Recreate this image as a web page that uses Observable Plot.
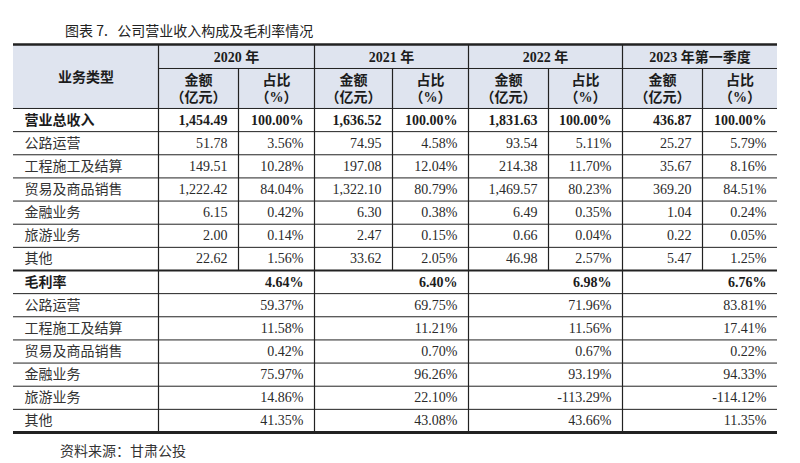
<!DOCTYPE html>
<html>
<head>
<meta charset="utf-8">
<script src="https://cdn.jsdelivr.net/npm/d3@7"></script>
<script src="https://cdn.jsdelivr.net/npm/@observablehq/plot@0.6"></script>
<style>
  html, body { margin: 0; padding: 0; background: #fff; }
  body { width: 800px; height: 463px; overflow: hidden; }
  #title { height: 43px; box-sizing: border-box; padding: 21px 0 0 65px; font: 14px "Noto Sans CJK SC", sans-serif; color: #222; white-space: pre; line-height: 18px; }
  #source { height: 28px; box-sizing: border-box; padding: 6px 0 0 60px; font: 14px "Noto Sans CJK SC", sans-serif; color: #333; line-height: 18px; }
  svg { display: block; }
</style>
</head>
<body>
<div id="title">图表 7.   公司营业收入构成及毛利率情况</div>
<div id="chart"></div>
<div id="source">资料来源：甘肃公投</div>
<script>
// ---------- data ----------
const titleText = "图表 7.   公司营业收入构成及毛利率情况";
const sourceText = "资料来源：甘肃公投";
const firstHeader = "业务类型";
const years = ["2020 年", "2021 年", "2022 年", "2023 年第一季度"];
const amountHeader = "金额\n（亿元）";
const shareHeader = "占比\n（%）";
const totalLabel = "营业总收入";
const marginLabel = "毛利率";
const categories = ["公路运营", "工程施工及结算", "贸易及商品销售", "金融业务", "旅游业务", "其他"];

const totalRevenue = [1454.49, 1636.52, 1831.63, 436.87];
const totalShare = [100.00, 100.00, 100.00, 100.00];

const revenue2020 = [51.78, 149.51, 1222.42, 6.15, 2.00, 22.62];
const share2020   = [3.56, 10.28, 84.04, 0.42, 0.14, 1.56];
const revenue2021 = [74.95, 197.08, 1322.10, 6.30, 2.47, 33.62];
const share2021   = [4.58, 12.04, 80.79, 0.38, 0.15, 2.05];
const revenue2022 = [93.54, 214.38, 1469.57, 6.49, 0.66, 46.98];
const share2022   = [5.11, 11.70, 80.23, 0.35, 0.04, 2.57];
const revenue2023Q1 = [25.27, 35.67, 369.20, 1.04, 0.22, 5.47];
const share2023Q1   = [5.79, 8.16, 84.51, 0.24, 0.05, 1.25];

const grossMargin = [4.64, 6.40, 6.98, 6.76];
const margin2020   = [59.37, 11.58, 0.42, 75.97, 14.86, 41.35];
const margin2021   = [69.75, 11.21, 0.70, 96.26, 22.10, 43.08];
const margin2022   = [71.96, 11.56, 0.67, 93.19, -113.29, 43.66];
const margin2023Q1 = [83.81, 17.41, 0.22, 94.33, -114.12, 11.35];

// ---------- layout ----------
const revenues = [revenue2020, revenue2021, revenue2022, revenue2023Q1];
const shares = [share2020, share2021, share2022, share2023Q1];
const margins = [margin2020, margin2021, margin2022, margin2023Q1];

const colWidths = [145, 80, 76, 78, 76, 80, 74, 80, 75];
const edges = [0, ...d3.cumsum(colWidths)];
const totalW = edges[edges.length - 1];
const yearRowH = 24, subRowH = 40, rowH = 23.15;
const headerH = yearRowH + subRowH;
const nTop = 1 + categories.length, nBottom = 1 + categories.length;
const sectionY = headerH + nTop * rowH;
const totalH = sectionY + nBottom * rowH;
const rowMid = r => headerH + r * rowH + rowH / 2;
const pad = 11;

const fmtAmt = d3.format(",.2f");
const fmtPct = v => v.toFixed(2) + "%";

// cells
const cells = [];
cells.push({x: edges[1] / 2, y: headerH / 2, t: firstHeader, kind: "head"});
years.forEach((yr, g) => {
  cells.push({x: (edges[1 + 2 * g] + edges[3 + 2 * g]) / 2, y: yearRowH / 2, t: yr, kind: "head"});
  cells.push({x: (edges[1 + 2 * g] + edges[2 + 2 * g]) / 2, y: yearRowH + subRowH / 2, t: amountHeader, kind: "head"});
  cells.push({x: (edges[2 + 2 * g] + edges[3 + 2 * g]) / 2, y: yearRowH + subRowH / 2, t: shareHeader, kind: "head"});
});
// top section
cells.push({x: 0, y: rowMid(0), t: totalLabel, kind: "labelBold"});
years.forEach((_, g) => {
  cells.push({x: edges[2 + 2 * g], y: rowMid(0), t: fmtAmt(totalRevenue[g]), kind: "numBold"});
  cells.push({x: edges[3 + 2 * g], y: rowMid(0), t: fmtPct(totalShare[g]), kind: "numBold"});
});
categories.forEach((c, i) => {
  cells.push({x: 0, y: rowMid(i + 1), t: c, kind: "label"});
  years.forEach((_, g) => {
    cells.push({x: edges[2 + 2 * g], y: rowMid(i + 1), t: fmtAmt(revenues[g][i]), kind: "num"});
    cells.push({x: edges[3 + 2 * g], y: rowMid(i + 1), t: fmtPct(shares[g][i]), kind: "num"});
  });
});
// bottom section
cells.push({x: 0, y: rowMid(nTop), t: marginLabel, kind: "labelBold"});
years.forEach((_, g) => {
  cells.push({x: edges[3 + 2 * g], y: rowMid(nTop), t: fmtPct(grossMargin[g]), kind: "numBold"});
});
categories.forEach((c, i) => {
  cells.push({x: 0, y: rowMid(nTop + 1 + i), t: c, kind: "label"});
  years.forEach((_, g) => {
    cells.push({x: edges[3 + 2 * g], y: rowMid(nTop + 1 + i), t: fmtPct(margins[g][i]), kind: "num"});
  });
});

// horizontal rules
const hRules = [];
hRules.push({y: 0, x1: 0, x2: totalW, w: 2.5});
hRules.push({y: yearRowH, x1: edges[1], x2: totalW, w: 1});
hRules.push({y: headerH, x1: 0, x2: totalW, w: 1});
for (let r = 1; r < nTop; r++) hRules.push({y: headerH + r * rowH, x1: 0, x2: totalW, w: 1});
hRules.push({y: sectionY, x1: 0, x2: totalW, w: 2.2});
for (let r = 1; r < nBottom; r++) hRules.push({y: sectionY + r * rowH, x1: 0, x2: totalW, w: 1});
hRules.push({y: totalH, x1: 0, x2: totalW, w: 2.8});

// vertical rules
const vRules = [];
[1, 3, 5, 7].forEach(k => vRules.push({x: edges[k], y1: 0, y2: totalH}));
[2, 4, 6, 8].forEach(k => vRules.push({x: edges[k], y1: yearRowH, y2: sectionY}));

const serif = "'Liberation Serif', 'Times New Roman', 'Noto Sans CJK SC', serif";
const cjk = "'Noto Sans CJK SC', sans-serif";
const ink = "#1c1c1c";

const chart = Plot.plot({
  width: 800,
  height: 392,
  marginLeft: 13,
  marginRight: 23,
  marginTop: 1,
  marginBottom: 3,
  x: {domain: [0, totalW], axis: null},
  y: {domain: [0, totalH], reverse: true, axis: null},
  style: {background: "white"},
  marks: [
    Plot.rect([{x1: 0, x2: totalW, y1: 0, y2: headerH}], {x1: "x1", x2: "x2", y1: "y1", y2: "y2", fill: "#dfe4ef"}),
    Plot.ruleX(vRules, {x: "x", y1: "y1", y2: "y2", stroke: "#222", strokeWidth: 1.2}),
    Plot.ruleY(hRules, {y: "y", x1: "x1", x2: "x2", stroke: "#222", strokeWidth: d => d.w}),
    Plot.text(cells.filter(d => d.kind === "head"), {x: "x", y: "y", text: "t", textAnchor: "middle", lineAnchor: "middle", lineHeight: 1.2, fontSize: 14, fontWeight: "bold", fontFamily: serif, fill: ink}),
    Plot.text(cells.filter(d => d.kind === "labelBold"), {x: "x", y: "y", text: "t", textAnchor: "start", dx: pad, lineAnchor: "middle", fontSize: 14, fontWeight: "bold", fontFamily: cjk, fill: ink}),
    Plot.text(cells.filter(d => d.kind === "label"), {x: "x", y: "y", text: "t", textAnchor: "start", dx: pad, lineAnchor: "middle", fontSize: 14, fontFamily: cjk, fill: "#333", style: {letterSpacing: "0.5px"}}),
    Plot.text(cells.filter(d => d.kind === "numBold"), {x: "x", y: "y", text: "t", textAnchor: "end", dx: -pad, lineAnchor: "middle", fontSize: 14, fontWeight: "bold", fontFamily: serif, fill: ink}),
    Plot.text(cells.filter(d => d.kind === "num"), {x: "x", y: "y", text: "t", textAnchor: "end", dx: -pad, lineAnchor: "middle", fontSize: 14, fontFamily: serif, fill: "#2a2a2a"})
  ]
});
document.getElementById("chart").append(chart);
</script>
</body>
</html>
